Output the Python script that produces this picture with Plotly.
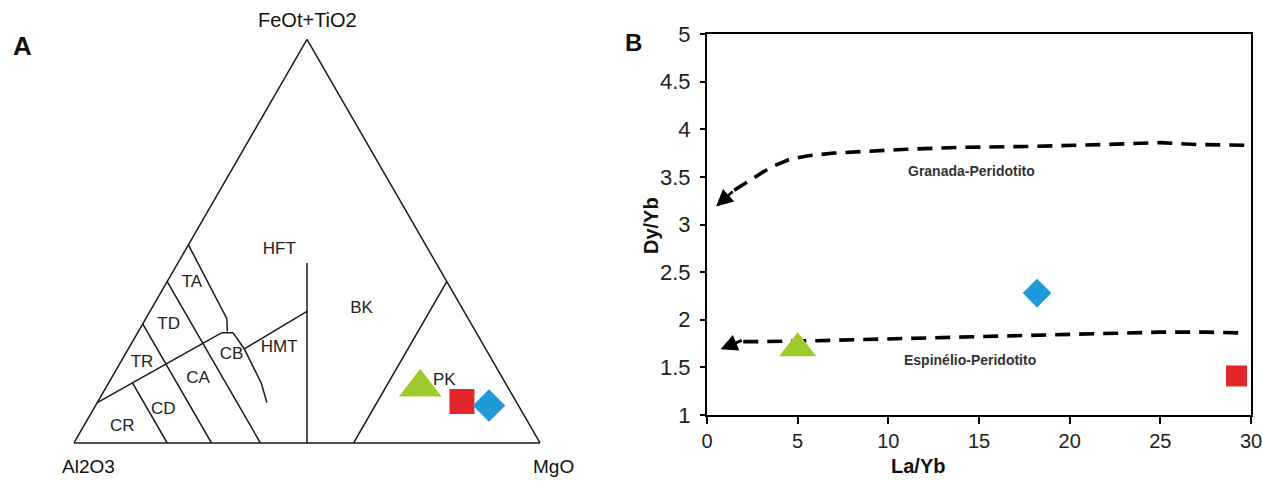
import plotly.graph_objects as go

W, H = 1263, 481

# ---------------- Panel A: Jensen cation plot (percent) ----------------
# a = FeOt+TiO2 (top), b = Al2O3 (left), c = MgO (right)
sample_symbols = ["triangle-up", "square", "diamond"]
sample_colors = ["#9dcb2b", "#e3262b", "#1f9ad8"]
sample_sizes_a = [37, 25, 25]
tern_fe = [13.8, 10.3, 9.3]
tern_al = [18.8, 11.6, 6.3]
tern_mg = [67.4, 78.1, 84.4]

# field boundaries as (Fe+Ti, Al, Mg) vertices
bnd_bk_hft = [(0, 50, 50), (44.6, 27.7, 27.7)]
bnd_pk_bk = [(0, 40, 60), (40, 0, 60)]
bnd_hmt_hft = [(23.3, 51.8, 24.9), (32.6, 33.7, 33.7)]
bnd_th_ca = [(10, 90, 0), (27.3, 54.7, 18.0)]
bnd_tbar = [(27.3, 54.7, 18.0), (27.3, 52.2, 20.5)]
bnd_ta = [(49.1, 50.9, 0), (30.8, 51.8, 17.4), (27.6, 53.3, 19.1)]
bnd_cb = [(27.3, 52.2, 20.5), (23.3, 51.8, 24.9), (14.8, 52.4, 32.8), (10.0, 53.6, 36.4)]
bnd_al60 = [(40, 60, 0), (0, 60, 40)]
bnd_al70 = [(29.5, 70.5, 0), (0, 70.5, 29.5)]
bnd_al80 = [(14.9, 80, 5.1), (0, 80, 20)]
boundaries = [bnd_bk_hft, bnd_pk_bk, bnd_hmt_hft, bnd_th_ca, bnd_tbar,
              bnd_ta, bnd_cb, bnd_al60, bnd_al70, bnd_al80]

region_names = ["HFT", "TA", "TD", "TR", "CB", "HMT", "CA", "CD", "CR", "BK", "PK"]
region_fe = [47.9, 39.6, 29.2, 20.0, 21.8, 23.7, 15.8, 8.3, 4.1, 33.2, 15.3]
region_al = [32.0, 54.9, 65.1, 75.4, 55.3, 44.1, 65.5, 76.7, 87.6, 21.7, 12.9]
region_mg = [20.1, 5.5, 5.7, 4.6, 22.9, 32.2, 18.7, 15.0, 8.3, 45.1, 71.8]

# ---------------- Panel B: Dy/Yb vs La/Yb ----------------
la_yb = [5.0, 29.2, 18.2]
dy_yb = [1.70, 1.41, 2.28]
sample_sizes_b = [32, 21, 22]

granada_x = [1.5, 2.5, 3.5, 4.5, 5.5, 7, 9, 11, 14, 18, 22, 25, 27, 30]
granada_y = [3.36, 3.48, 3.60, 3.68, 3.72, 3.75, 3.77, 3.79, 3.81, 3.82, 3.84, 3.86, 3.84, 3.83]
granada_arrow = [(0.5, 3.19), (1.5, 3.36)]  # tip, tail

espinelio_x = [2.0, 3, 6, 10, 15, 20, 25, 27.5, 29.7]
espinelio_y = [1.77, 1.77, 1.78, 1.80, 1.82, 1.85, 1.87, 1.87, 1.86]
espinelio_arrow = [(0.75, 1.69), (2.0, 1.79)]

curve_labels = ["Granada-Peridotito", "Espinélio-Peridotito"]
curve_label_x = [14.6, 14.5]
curve_label_y = [3.56, 1.58]

x_ticks = [0, 5, 10, 15, 20, 25, 30]
y_ticks = [1, 1.5, 2, 2.5, 3, 3.5, 4, 4.5, 5]
y_tick_text = ["1", "1.5", "2", "2.5", "3", "3.5", "4", "4.5", "5"]


def px_x(px):
    return px / W


def px_y(py):
    return 1 - py / H


fig = go.Figure()

LINE = "#1a1a1a"
TXT_FONT = "Liberation Sans, Arial, sans-serif"

for bnd in boundaries:
    fig.add_trace(go.Scatterternary(
        a=[p[0] for p in bnd], b=[p[1] for p in bnd], c=[p[2] for p in bnd],
        mode="lines", line=dict(color=LINE, width=1.5),
        hoverinfo="skip", showlegend=False))

fig.add_trace(go.Scatterternary(
    a=region_fe, b=region_al, c=region_mg, mode="text", text=region_names,
    textfont=dict(family=TXT_FONT, size=17, color="#222"),
    hoverinfo="skip", showlegend=False))

for i in range(3):
    fig.add_trace(go.Scatterternary(
        a=[tern_fe[i]], b=[tern_al[i]], c=[tern_mg[i]], mode="markers",
        marker=dict(symbol=sample_symbols[i], size=sample_sizes_a[i],
                    color=sample_colors[i], line=dict(width=0)),
        showlegend=False))

# Panel B curves
for cx, cy in ((granada_x, granada_y), (espinelio_x, espinelio_y)):
    fig.add_trace(go.Scatter(x=cx, y=cy, mode="lines",
                             line=dict(color="black", width=3.6, dash="15px,9px"),
                             hoverinfo="skip", showlegend=False))
for i in range(3):
    fig.add_trace(go.Scatter(
        x=[la_yb[i]], y=[dy_yb[i]], mode="markers",
        marker=dict(symbol=sample_symbols[i], size=sample_sizes_b[i],
                    color=sample_colors[i], line=dict(width=0)),
        showlegend=False))

annotations = []
for arr in (granada_arrow, espinelio_arrow):
    annotations.append(dict(x=arr[0][0], y=arr[0][1], ax=arr[1][0], ay=arr[1][1],
                            xref="x", yref="y", axref="x", ayref="y", text="",
                            showarrow=True, arrowhead=2, arrowsize=1.2,
                            arrowwidth=2.8, arrowcolor="black"))
for t, x, y in zip(curve_labels, curve_label_x, curve_label_y):
    annotations.append(dict(x=x, y=y, xref="x", yref="y", text="<b>%s</b>" % t,
                            showarrow=False,
                            font=dict(family=TXT_FONT, size=14, color="#333")))

for txt, px, py, size, bold, ang in [("FeOt+TiO2", 307, 20, 20, False, 0),
                                     ("Al2O3", 88, 466, 19, False, 0),
                                     ("MgO", 553, 466, 19, False, 0),
                                     ("A", 22, 46, 26, True, 0),
                                     ("B", 633, 42, 24, True, 0),
                                     ("La/Yb", 918, 466, 20, True, 0),
                                     ("Dy/Yb", 651, 226, 20, True, -90)]:
    annotations.append(dict(x=px_x(px), y=px_y(py), xref="paper", yref="paper",
                            text=("<b>%s</b>" % txt) if bold else txt,
                            showarrow=False, xanchor="center", yanchor="middle",
                            textangle=ang,
                            font=dict(family=TXT_FONT, size=size, color="#111")))

tern_axis = dict(showgrid=False, showticklabels=False, ticks="", showline=True,
                 linecolor=LINE, linewidth=1.5, title=dict(text=""), min=0)

fig.update_layout(
    width=W, height=H, autosize=False,
    margin=dict(l=0, r=0, t=0, b=0, pad=0),
    paper_bgcolor="white", plot_bgcolor="white",
    showlegend=False,
    ternary=dict(
        sum=100,
        domain=dict(x=[px_x(74), px_x(540)], y=[px_y(443), px_y(39.4)]),
        bgcolor="white",
        aaxis=tern_axis, baxis=tern_axis, caxis=tern_axis,
    ),
    xaxis=dict(domain=[px_x(707), px_x(1251)], range=[0, 30], tickvals=x_ticks,
               automargin=False, ticklabeloverflow="allow",
               showgrid=False, zeroline=False, showline=True, mirror=True,
               linecolor="black", linewidth=2, ticks="outside", ticklen=7,
               tickwidth=1.5, tickcolor="black",
               tickfont=dict(family=TXT_FONT, size=20, color="#222")),
    yaxis=dict(domain=[px_y(415), px_y(34)], range=[1, 5], tickvals=y_ticks,
               ticktext=y_tick_text, automargin=False, ticklabeloverflow="allow",
               showgrid=False, zeroline=False, showline=True, mirror=True,
               linecolor="black", linewidth=2, ticks="outside", ticklen=5,
               tickwidth=1.5, tickcolor="black", ticklabelstandoff=5,
               tickfont=dict(family=TXT_FONT, size=22, color="#222")),
    annotations=annotations,
)

# remove the default page margin so the 1263x481 figure fills the window exactly
fig.write_html("out.html",
               config={"displayModeBar": False},
               post_script="document.body.style.margin='0';"
                           "document.body.style.overflow='hidden';")
